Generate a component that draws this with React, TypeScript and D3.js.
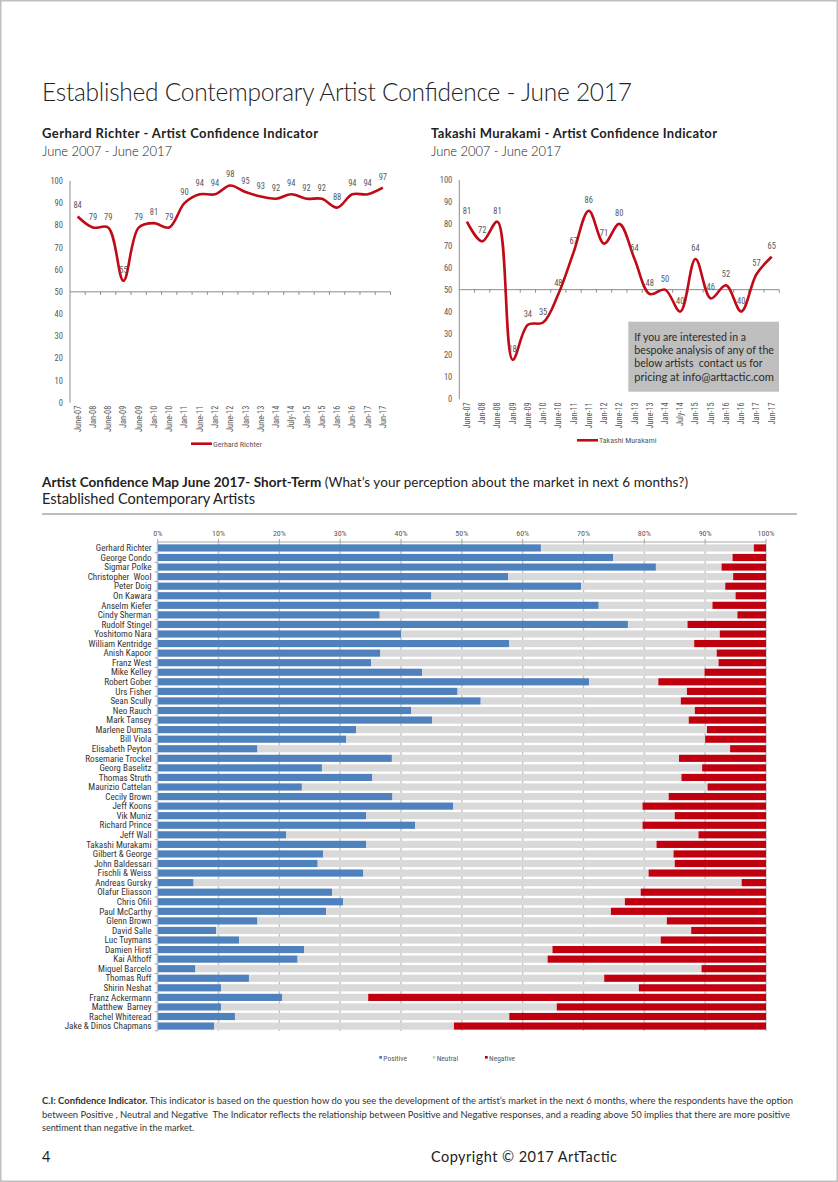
import React from 'react';
import * as d3 from 'd3';

// ---- data ----
const periods = ['June-07', 'Jan-08', 'June-08', 'Jan-09', 'June-09', 'Jan-10', 'June-10', 'Jan-11', 'June-11', 'Jan-12', 'June-12',
  'Jan-13', 'June-13', 'Jan-14', 'July-14', 'Jan-15', 'Jun-15', 'Jan-16', 'Jun-16', 'Jan-17', 'Jun-17'];
const richter = [84, 79, 79, 55, 79, 81, 79, 90, 94, 94, 98, 95, 93, 92, 94, 92, 92, 88, 94, 94, 97];
const murakami = [81, 72, 81, 18, 34, 35, 48, 67, 86, 71, 80, 64, 48, 50, 40, 64, 46, 52, 40, 57, 65];
const ciTicks = [0, 10, 20, 30, 40, 50, 60, 70, 80, 90, 100];

const artists = ['Gerhard Richter', 'George Condo', 'Sigmar Polke', 'Christopher  Wool', 'Peter Doig', 'On Kawara', 'Anselm Kiefer',
  'Cindy Sherman', 'Rudolf Stingel', 'Yoshitomo Nara', 'William Kentridge', 'Anish Kapoor', 'Franz West', 'Mike Kelley',
  'Robert Gober', 'Urs Fisher', 'Sean Scully', 'Neo Rauch', 'Mark Tansey', 'Marlene Dumas', 'Bill Viola', 'Elisabeth Peyton',
  'Rosemarie Trockel', 'Georg Baselitz', 'Thomas Struth', 'Maurizio Cattelan', 'Cecily Brown', 'Jeff Koons', 'Vik Muniz',
  'Richard Prince', 'Jeff Wall', 'Takashi Murakami', 'Gilbert & George', 'John Baldessari', 'Fischli & Weiss', 'Andreas Gursky',
  'Olafur Eliasson', 'Chris Ofili', 'Paul McCarthy', 'Glenn Brown', 'David Salle', 'Luc Tuymans', 'Damien Hirst', 'Kai Althoff',
  'Miquel Barcelo', 'Thomas Ruff', 'Shirin Neshat', 'Franz Ackermann', 'Matthew  Barney', 'Rachel Whiteread', 'Jake & Dinos Chapmans'];
const positive = [63.0, 74.9, 81.9, 57.6, 69.6, 45.0, 72.5, 36.5, 77.3, 40.0, 57.8, 36.6, 35.1, 43.5, 70.9, 49.3, 53.1, 41.7, 45.1,
  32.6, 31.0, 16.4, 38.5, 27.0, 35.3, 23.7, 38.6, 48.6, 34.3, 42.3, 21.1, 34.3, 27.2, 26.3, 33.8, 5.9, 28.7, 30.5, 27.7, 16.4,
  9.6, 13.4, 24.1, 23.0, 6.2, 15.0, 10.4, 20.5, 10.4, 12.7, 9.3];
const neutral = [35.0, 19.6, 10.8, 37.0, 23.7, 50.0, 18.7, 58.8, 9.8, 52.4, 30.4, 55.3, 57.1, 46.4, 11.4, 37.7, 32.9, 46.6, 42.2,
  57.7, 59.0, 77.7, 47.2, 62.5, 50.8, 66.7, 45.4, 31.1, 50.7, 37.4, 67.8, 47.7, 57.6, 58.7, 46.9, 90.1, 50.7, 46.3, 46.8, 67.3,
  78.1, 69.3, 40.8, 41.1, 83.2, 58.4, 68.7, 14.1, 55.2, 45.1, 39.4];
const negative = [2.0, 5.5, 7.3, 5.4, 6.7, 5.0, 8.8, 4.7, 12.9, 7.6, 11.8, 8.1, 7.8, 10.1, 17.7, 13.0, 14.0, 11.7, 12.7,
  9.7, 10.0, 5.9, 14.3, 10.5, 13.9, 9.6, 16.0, 20.3, 15.0, 20.3, 11.1, 18.0, 15.2, 15.0, 19.3, 4.0, 20.6, 23.2, 25.5, 16.3,
  12.3, 17.3, 35.1, 35.9, 10.6, 26.6, 20.9, 65.4, 34.4, 42.2, 51.3];
const pctTicks = [0, 10, 20, 30, 40, 50, 60, 70, 80, 90, 100];
const keys = ['positive', 'neutral', 'negative'];
const keyLabels = ['Positive', 'Neutral', 'Negative'];

const boxLines = ['If you are interested in a', 'bespoke analysis of any of the', 'below artists  contact us for', 'pricing at info@arttactic.com'];
const boxWidths = [111.7, 139.7, 128.4, 139.7];

const HEAD = "Lato, 'Open Sans', sans-serif";
const NARROW = "'Liberation Sans Narrow', 'Roboto Condensed', Roboto, 'Noto Sans', sans-serif";
const RED = '#c00a16';
const colors: Record<string, string> = { positive: '#4f81bd', neutral: '#d9d9d9', negative: '#c0000f' };

interface LineProps {
  values: number[];
  name: string;
  left: number;
  right: number;
  top: number;
  bottom: number;
  legendX: number;
}

const LineChart: React.FC<LineProps> = ({ values, name, left, right, top, bottom, legendX }) => {
  const x = d3.scaleBand<string>().domain(periods).range([left, right]);
  const y = d3.scaleLinear().domain([0, 100]).range([bottom, top]);
  const cx = (p: string) => (x(p) || 0) + x.bandwidth() / 2;
  const line = d3.line<number>()
    .x((_, i) => cx(periods[i]))
    .y(d => y(d))
    .curve(d3.curveCatmullRom.alpha(0.5));
  return (
    <g>
      {ciTicks.map(t => (
        <text key={t} x={left - 7} y={y(t) + 3} textAnchor="end" fontSize={8.5} fill="#595959" fontFamily={NARROW}>{t}</text>
      ))}
      <line x1={left} x2={left} y1={y(0)} y2={y(100)} stroke="#8c8c8c" strokeWidth={1} />
      <line x1={left} x2={right} y1={y(50)} y2={y(50)} stroke="#8c8c8c" strokeWidth={1} />
      {periods.map(p => (
        <line key={p} x1={(x(p) || 0) + x.bandwidth()} x2={(x(p) || 0) + x.bandwidth()} y1={y(50)} y2={y(50) + 3} stroke="#8c8c8c" />
      ))}
      {periods.map(p => (
        <text key={p} transform={`translate(${cx(p) + 3},${y(0) + 3}) rotate(-90)`} textAnchor="end" fontSize={8.3} fill="#595959" fontFamily={NARROW}>{p}</text>
      ))}
      <path d={line(values) || ''} fill="none" stroke={RED} strokeWidth={2.6} />
      {values.map((v, i) => (
        <text key={i} x={cx(periods[i])} y={y(v) - 8} textAnchor="middle" fontSize={8.5} fill="#595959" fontFamily={NARROW}>{v}</text>
      ))}
      <line x1={legendX} x2={legendX + 21} y1={bottom + 41} y2={bottom + 41} stroke={RED} strokeWidth={2.6} />
      <text x={legendX + 22} y={bottom + 44} fontSize={8} fill="#595959" fontFamily={NARROW}>{name}</text>
    </g>
  );
};

const BarChart: React.FC = () => {
  const table = artists.map((a, i) => ({ artist: a, positive: positive[i], neutral: neutral[i], negative: negative[i] }));
  const series = d3.stack<any>().keys(keys)(table);
  const x = d3.scaleLinear().domain([0, 100]).range([157.7, 766]);
  const y = d3.scaleBand<string>().domain(artists).range([543.2, 1030.8]).paddingInner(0.25).paddingOuter(0.12);
  const top = 542;
  const bottom = 1031;
  return (
    <g>
      {pctTicks.map(t => (
        <line key={t} x1={x(t)} x2={x(t)} y1={top} y2={bottom} stroke="#c4c4c4" strokeWidth={1.4} />
      ))}
      {series.map(s => (
        <g key={s.key} fill={colors[s.key]}>
          {s.map((d, i) => (
            <rect key={i} x={x(d[0])} y={y(artists[i])} width={Math.max(0, x(d[1]) - x(d[0]))} height={y.bandwidth()} />
          ))}
        </g>
      ))}
      <line x1={x(0)} x2={x(100)} y1={top} y2={top} stroke="#a6a6a6" />
      {pctTicks.map(t => (
        <g key={t}>
          <line x1={x(t)} x2={x(t)} y1={top - 3} y2={top} stroke="#a6a6a6" />
          <text x={x(t)} y={top - 6} textAnchor="middle" fontSize={8} fill="#595959" fontFamily={NARROW}>{t}%</text>
        </g>
      ))}
      <line x1={x(0) - 0.5} x2={x(0) - 0.5} y1={top} y2={bottom} stroke="#c4c4c4" />
      {artists.map(a => (
        <g key={a}>
          <line x1={x(0) - 3} x2={x(0)} y1={(y(a) || 0) + y.bandwidth() + 1.2} y2={(y(a) || 0) + y.bandwidth() + 1.2} stroke="#a6a6a6" />
          <text x={151.5} y={(y(a) || 0) + y.bandwidth() / 2 + 3.2} textAnchor="end" fontSize={9.1} fill="#333" fontFamily={NARROW} style={{ whiteSpace: 'pre' }}>{a}</text>
        </g>
      ))}
      {keys.map((k, i) => (
        <g key={k} transform={`translate(${[379.3, 432.7, 485][i]},1056)`}>
          <rect width={2.7} height={2.7} fill={k === 'neutral' ? '#d0d0d0' : colors[k]} />
          <text x={4} y={4.6} fontSize={7.5} fill="#595959" fontFamily={NARROW}>{keyLabels[i]}</text>
        </g>
      ))}
    </g>
  );
};

export default function App() {
  return (
    <svg width={838} height={1182} style={{ position: 'absolute', left: 0, top: 0, background: '#fff' }}>
      <rect x={0.75} y={0.75} width={836.5} height={1180.5} fill="#fff" stroke="#c0c0c0" strokeWidth={1.5} />
      <text x={42} y={101} fontSize={24.5} fontWeight={300} fill="#222" fontFamily={HEAD} textLength={590}>Established Contemporary Artist Confidence - June 2017</text>

      <text x={42} y={138} fontSize={13} fontWeight={700} fill="#222" fontFamily={HEAD} textLength={276}>Gerhard Richter - Artist Confidence Indicator</text>
      <text x={42} y={156} fontSize={13} fontWeight={300} fill="#222" fontFamily={HEAD} textLength={130}>June 2007 - June 2017</text>
      <text x={431} y={138} fontSize={13} fontWeight={700} fill="#222" fontFamily={HEAD} textLength={286}>Takashi Murakami - Artist Confidence Indicator</text>
      <text x={431} y={156} fontSize={13} fontWeight={300} fill="#222" fontFamily={HEAD} textLength={130}>June 2007 - June 2017</text>

      <LineChart values={richter} name="Gerhard Richter" left={70} right={390.5} top={181} bottom={402.7} legendX={191} />
      <LineChart values={murakami} name="Takashi Murakami" left={459.3} right={779.3} top={180} bottom={399.3} legendX={577} />

      <rect x={628.3} y={321.7} width={150.7} height={70} fill="#bfbfbf" />
      {boxLines.map((s, i) => (
        <text key={i} x={634.3} y={340.5 + i * 13.4} fontSize={11} fill="#2b2b2b" fontFamily="Lato, sans-serif"
          textLength={boxWidths[i]} lengthAdjust="spacingAndGlyphs" style={{ whiteSpace: 'pre' }}>{s}</text>
      ))}

      <text x={42} y={487} fontSize={13.5} fill="#222" fontFamily={HEAD} textLength={646}>
        <tspan fontWeight={700}>Artist Confidence Map June 2017- Short-Term</tspan>
        <tspan> (What’s your perception about the market in next 6 months?)</tspan>
      </text>
      <text x={42} y={504} fontSize={14.6} fill="#222" fontFamily={HEAD} textLength={213}>Established Contemporary Artists</text>
      <line x1={42} x2={797} y1={514} y2={514} stroke="#a6a6a6" strokeWidth={1.5} />

      <BarChart />

      <text x={42} y={1104} fontSize={9} fill="#333" fontFamily={HEAD} textLength={751} lengthAdjust="spacingAndGlyphs">
        <tspan fontWeight={700}>C.I: Confidence Indicator.</tspan>
        <tspan> This indicator is based on the question how do you see the development of the artist’s market in the next 6 months, where the respondents have the option</tspan>
      </text>
      <text x={42} y={1117.5} fontSize={9} fill="#333" fontFamily={HEAD} textLength={748} lengthAdjust="spacingAndGlyphs" style={{ whiteSpace: 'pre' }}>between Positive , Neutral and Negative  The Indicator reflects the relationship between Positive and Negative responses, and a reading above 50 implies that there are more positive</text>
      <text x={42} y={1131} fontSize={9} fill="#333" fontFamily={HEAD}>sentiment than negative in the market.</text>

      <text x={42} y={1162} fontSize={14.5} fill="#222" fontFamily={HEAD}>4</text>
      <text x={431} y={1162} fontSize={14.5} fill="#222" fontFamily={HEAD} textLength={186}>Copyright © 2017 ArtTactic</text>
    </svg>
  );
}
